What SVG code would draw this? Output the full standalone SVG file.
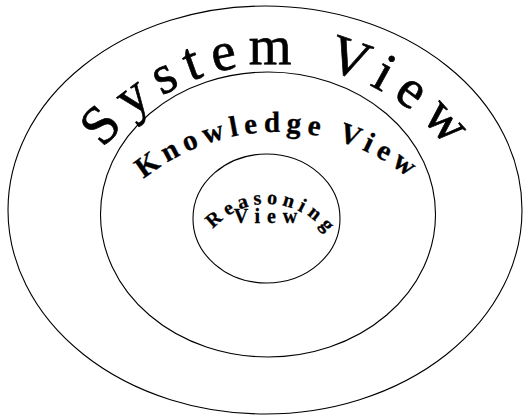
<svg xmlns="http://www.w3.org/2000/svg" width="526" height="417" viewBox="0 0 526 417">
  <style>
    .ring { fill: none; stroke: #000; stroke-width: 1.1; }
    .lbl { font-family: "Liberation Serif", "Times New Roman", serif; fill: #000; stroke: #000; text-anchor: middle; }
    .sys { font-size: 55px; letter-spacing: 10.5px; stroke-width: 0.7; }
    .know { font-size: 29px; font-weight: bold; letter-spacing: 6px; stroke-width: 0.3; }
    .reas { font-size: 20px; font-weight: bold; letter-spacing: 5px; stroke-width: 0.3; }
  </style>
  <defs>
    <path id="arcSys" d="M 58,282 A 218,218 0 0 1 494,282"/>
    <path id="arcKnow" d="M 65,344 A 212,212 0 0 1 489,344"/>
    <path id="arcReas" d="M 195,277 A 73,73 0 0 1 341,277"/>
  </defs>
  <rect width="526" height="417" fill="#fff"/>
  <g id="system-view">
    <ellipse class="ring" cx="265" cy="210" rx="257" ry="204"/>
    <text class="lbl sys"><textPath href="#arcSys" startOffset="50.6%">System View</textPath></text>
  </g>
  <g id="knowledge-view">
    <ellipse class="ring" cx="268" cy="214.5" rx="167.5" ry="142.5"/>
    <text class="lbl know"><textPath href="#arcKnow" startOffset="50.2%">Knowledge View</textPath></text>
  </g>
  <g id="reasoning-view">
    <ellipse class="ring" cx="266.5" cy="218.5" rx="73.5" ry="64.5"/>
    <text class="lbl reas"><textPath href="#arcReas" startOffset="52%">Reasoning</textPath></text>
    <text class="lbl reas" x="269" y="223" style="letter-spacing:7px">View</text>
  </g>
</svg>
